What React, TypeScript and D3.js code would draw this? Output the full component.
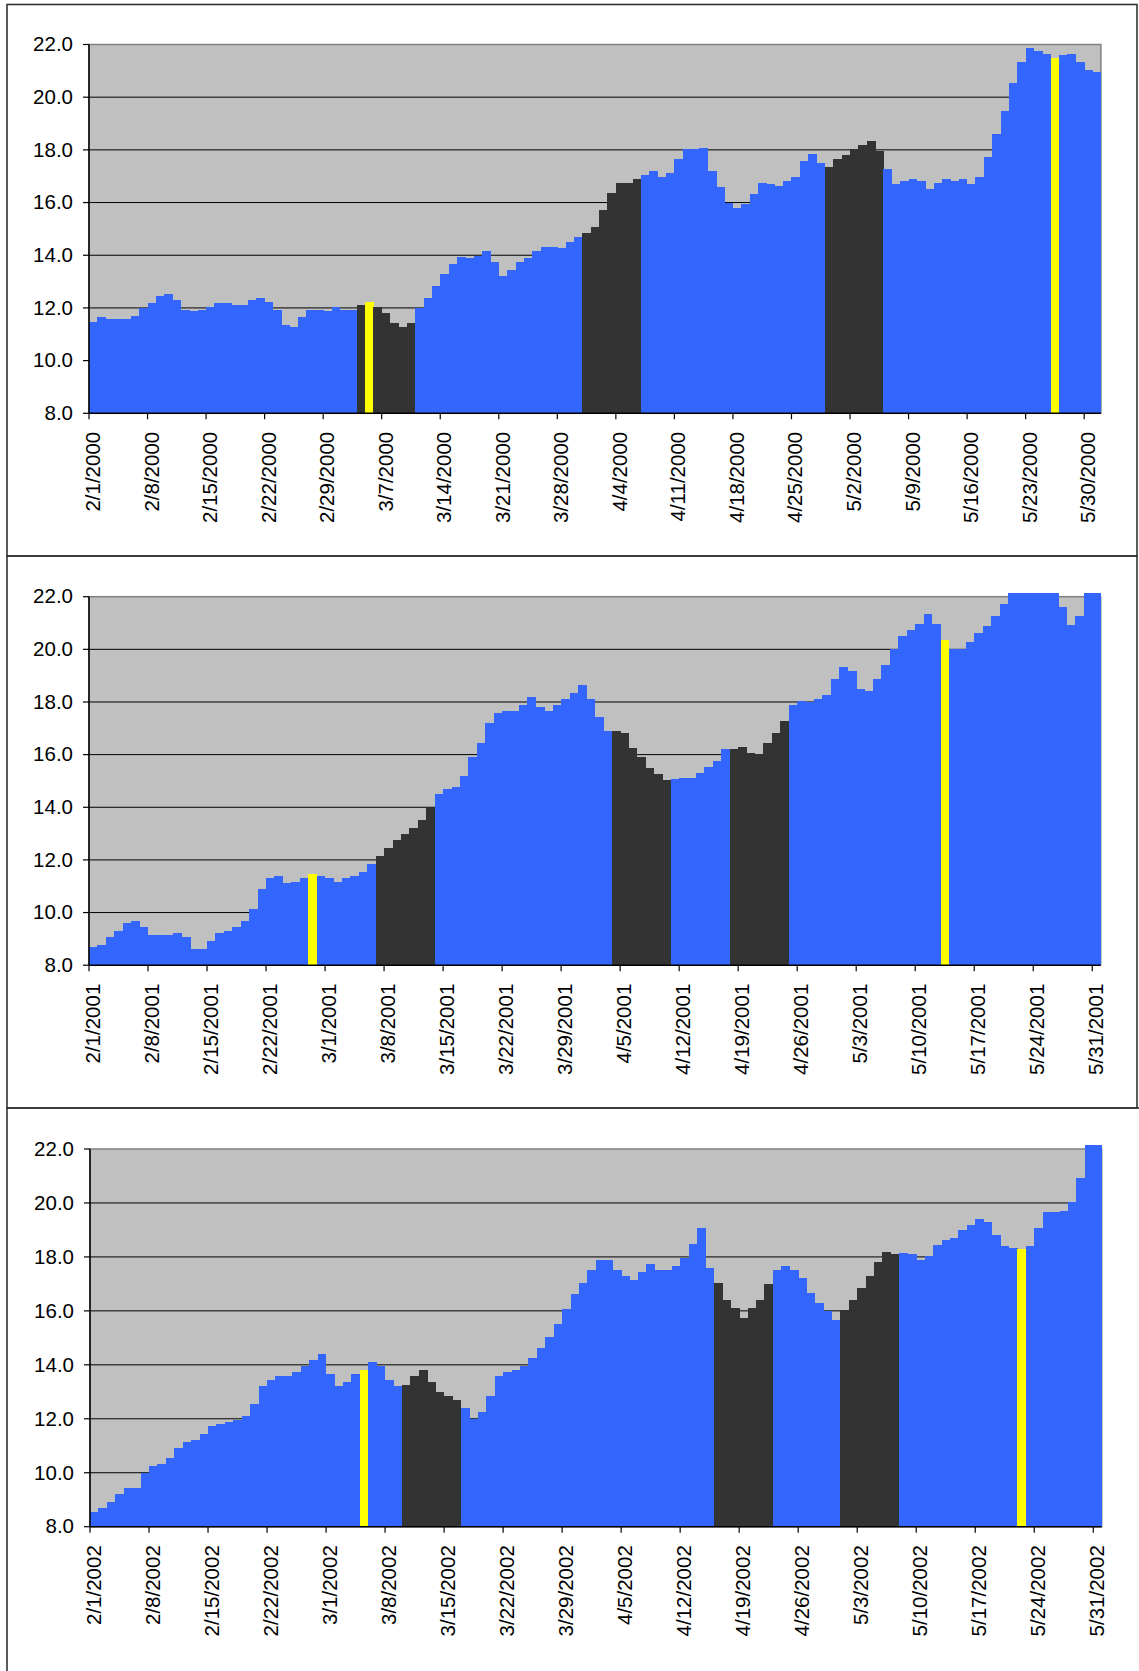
import React from "react";
import * as d3 from "d3";

// ---------- DATA ----------
const values2000 = [
  11.48, 11.64, 11.57, 11.57, 11.57, 11.70, 12.00, 12.17, 12.46, 12.54,
  12.31, 11.94, 11.87, 11.94, 12.02, 12.17, 12.17, 12.10, 12.10, 12.31,
  12.39, 12.24, 11.93, 11.34, 11.27, 11.64, 11.94, 11.94, 11.87, 12.02,
  11.94, 11.94, 12.10, 12.24, 12.02, 11.79, 11.41, 11.27, 11.41, 12.00,
  12.39, 12.83, 13.28, 13.66, 13.95, 13.89, 13.97, 14.18, 13.74, 13.22,
  13.44, 13.74, 13.89, 14.18, 14.33, 14.33, 14.26, 14.49, 14.70, 14.86,
  15.08, 15.70, 16.37, 16.75, 16.75, 16.90, 17.04, 17.19, 16.98, 17.13,
  17.65, 18.03, 18.03, 18.09, 17.19, 16.60, 15.99, 15.78, 15.93, 16.31,
  16.75, 16.69, 16.62, 16.82, 16.98, 17.57, 17.86, 17.51, 17.36, 17.65,
  17.80, 18.05, 18.18, 18.33, 17.95, 17.27, 16.69, 16.82, 16.89, 16.82,
  16.53, 16.75, 16.89, 16.82, 16.89, 16.69, 16.98, 17.73, 18.62, 19.47,
  20.52, 21.35, 21.86, 21.74, 21.65, 21.49, 21.59, 21.65, 21.35, 21.05,
  20.96,
];
const values2001 = [
  8.70, 8.76, 9.06, 9.29, 9.60, 9.67, 9.44, 9.14, 9.14, 9.14,
  9.22, 9.06, 8.61, 8.61, 8.91, 9.22, 9.29, 9.44, 9.67, 10.12,
  10.88, 11.32, 11.40, 11.11, 11.17, 11.32, 11.47, 11.40, 11.32, 11.17,
  11.32, 11.40, 11.55, 11.85, 12.16, 12.46, 12.77, 12.98, 13.21, 13.51,
  13.97, 14.49, 14.70, 14.78, 15.17, 15.92, 16.45, 17.20, 17.58, 17.66,
  17.66, 17.89, 18.18, 17.81, 17.66, 17.89, 18.11, 18.33, 18.63, 18.11,
  17.43, 16.91, 16.91, 16.83, 16.24, 15.92, 15.48, 15.25, 15.02, 15.06,
  15.10, 15.10, 15.31, 15.54, 15.77, 16.23, 16.23, 16.30, 16.07, 16.01,
  16.45, 16.83, 17.28, 17.89, 18.04, 17.99, 18.11, 18.25, 18.86, 19.32,
  19.19, 18.49, 18.43, 18.86, 19.39, 20.00, 20.52, 20.75, 20.98, 21.36,
  20.98, 20.35, 20.00, 20.00, 20.29, 20.61, 20.90, 21.28, 21.73, 22.15,
  22.15, 22.15, 22.15, 22.15, 22.15, 21.59, 20.92, 21.28, 22.15, 22.15,
];
const values2002 = [
  8.53, 8.68, 8.90, 9.20, 9.42, 9.42, 9.98, 10.25, 10.32, 10.54,
  10.90, 11.13, 11.20, 11.42, 11.73, 11.80, 11.88, 11.95, 12.10, 12.55,
  13.21, 13.44, 13.58, 13.58, 13.73, 13.95, 14.18, 14.39, 13.65, 13.21,
  13.35, 13.65, 13.79, 14.09, 13.94, 13.44, 13.21, 13.27, 13.57, 13.79,
  13.35, 12.98, 12.83, 12.68, 12.39, 11.98, 12.24, 12.83, 13.57, 13.73,
  13.81, 13.95, 14.24, 14.61, 15.04, 15.51, 16.08, 16.61, 17.05, 17.50,
  17.88, 17.88, 17.51, 17.29, 17.14, 17.44, 17.72, 17.51, 17.51, 17.66,
  17.96, 18.48, 19.06, 17.59, 17.05, 16.39, 16.09, 15.75, 16.09, 16.39,
  16.98, 17.51, 17.65, 17.51, 17.22, 16.68, 16.31, 15.98, 15.66, 16.02,
  16.39, 16.83, 17.28, 17.80, 18.17, 18.11, 18.15, 18.11, 17.88, 18.02,
  18.46, 18.62, 18.70, 18.99, 19.19, 19.41, 19.28, 18.83, 18.39, 18.33,
  18.31, 18.40, 19.06, 19.66, 19.66, 19.72, 20.03, 20.91, 22.15, 22.15,
];

const start2000 = "2/1/2000";
const start2001 = "2/1/2001";
const start2002 = "2/1/2002";

const dark2000 = [["3/4/2000", "3/10/2000"], ["3/31/2000", "4/6/2000"], ["4/29/2000", "5/5/2000"]];
const dark2001 = [["3/7/2001", "3/13/2001"], ["4/4/2001", "4/10/2001"], ["4/18/2001", "4/24/2001"]];
const dark2002 = [["3/10/2002", "3/16/2002"], ["4/16/2002", "4/22/2002"], ["5/1/2002", "5/7/2002"]];

const yellow2000 = ["3/5/2000", "5/26/2000"];
const yellow2001 = ["2/27/2001", "5/13/2001"];
const yellow2002 = ["3/5/2002", "5/22/2002"];

const ticks2000 = ["2/1/2000", "2/8/2000", "2/15/2000", "2/22/2000", "2/29/2000", "3/7/2000", "3/14/2000", "3/21/2000", "3/28/2000", "4/4/2000", "4/11/2000", "4/18/2000", "4/25/2000", "5/2/2000", "5/9/2000", "5/16/2000", "5/23/2000", "5/30/2000"];
const ticks2001 = ["2/1/2001", "2/8/2001", "2/15/2001", "2/22/2001", "3/1/2001", "3/8/2001", "3/15/2001", "3/22/2001", "3/29/2001", "4/5/2001", "4/12/2001", "4/19/2001", "4/26/2001", "5/3/2001", "5/10/2001", "5/17/2001", "5/24/2001", "5/31/2001"];
const ticks2002 = ["2/1/2002", "2/8/2002", "2/15/2002", "2/22/2002", "3/1/2002", "3/8/2002", "3/15/2002", "3/22/2002", "3/29/2002", "4/5/2002", "4/12/2002", "4/19/2002", "4/26/2002", "5/3/2002", "5/10/2002", "5/17/2002", "5/24/2002", "5/31/2002"];

const yTicks = [8, 10, 12, 14, 16, 18, 20, 22];

// ---------- STYLE / LAYOUT ----------
const FONT = "'Liberation Sans', Arial, Helvetica, sans-serif";
const FS = 20.5;
const BLUE = "#3366FF";
const DARK = "#333333";
const YELLOW = "#FFFF00";
const PLOT_BG = "#C0C0C0";

const parse = d3.timeParse("%m/%d/%Y");

interface PanelCfg {
  start: string;
  values: number[];
  dark: string[][];
  yellow: string[];
  ticks: string[];
  frame: { x: number; y: number; w: number; h: number };
  plot: { l: number; r: number; t: number; b: number };
  labelGap: number;
}

const panels: PanelCfg[] = [
  {
    start: start2000, values: values2000, dark: dark2000, yellow: yellow2000, ticks: ticks2000,
    frame: { x: 7, y: 4.5, w: 1130, h: 551.5 },
    plot: { l: 89, r: 1100.9, t: 44.5, b: 413.3 },
    labelGap: 18.5,
  },
  {
    start: start2001, values: values2001, dark: dark2001, yellow: yellow2001, ticks: ticks2001,
    frame: { x: 7, y: 556, w: 1130, h: 552 },
    plot: { l: 89, r: 1100.7, t: 596.7, b: 965.2 },
    labelGap: 18.5,
  },
  {
    start: start2002, values: values2002, dark: dark2002, yellow: yellow2002, ticks: ticks2002,
    frame: { x: 7, y: 1108, w: 1150, h: 600 },
    plot: { l: 90, r: 1101.7, t: 1149, b: 1526.7 },
    labelGap: 18.5,
  },
];

function Panel({ cfg }: { cfg: PanelCfg }) {
  const startDate = parse(cfg.start) as Date;
  const days = cfg.values.map((_, i) => d3.timeDay.offset(startDate, i));
  const endDate = d3.timeDay.offset(startDate, cfg.values.length);
  const x = d3.scaleTime().domain([startDate, endDate]).range([cfg.plot.l, cfg.plot.r]);
  const y = d3.scaleLinear().domain([8, 22]).range([cfg.plot.b, cfg.plot.t]);

  const darkRanges = cfg.dark.map(([a, b]) => [parse(a) as Date, parse(b) as Date]);
  const yellowSet = new Set(cfg.yellow.map((s) => (parse(s) as Date).getTime()));
  const colorFor = (d: Date) => {
    if (yellowSet.has(d.getTime())) return YELLOW;
    for (const [a, b] of darkRanges) if (d >= a && d <= b) return DARK;
    return BLUE;
  };

  const { l, r, t, b } = cfg.plot;
  return (
    <g>
      <rect x={l} y={t} width={r - l} height={b - t} fill={PLOT_BG} stroke="#808080" strokeWidth={1.5} />
      {yTicks.filter((v) => v > 8 && v < 22).map((v) => (
        <line key={v} x1={l} x2={r} y1={y(v)} y2={y(v)} stroke="#000" strokeWidth={1} />
      ))}
      {days.map((d, i) => {
        const x0 = x(d);
        const x1 = x(d3.timeDay.offset(d, 1));
        const v = cfg.values[i];
        return (
          <rect key={i} x={x0} y={y(v)} width={x1 - x0 + 0.4} height={b - y(v)}
            fill={colorFor(d)} shapeRendering="crispEdges" />
        );
      })}
      {/* axes */}
      <line x1={l} x2={l} y1={t} y2={b} stroke="#000" strokeWidth={1.5} />
      <line x1={l} x2={r} y1={b} y2={b} stroke="#000" strokeWidth={1.5} />
      {yTicks.map((v) => (
        <g key={v}>
          <line x1={l - 6} x2={l} y1={y(v)} y2={y(v)} stroke="#000" strokeWidth={1.2} />
          <text x={l - 16} y={y(v)} dy="0.33em" textAnchor="end" fontFamily={FONT} fontSize={FS} fill="#000">
            {d3.format(".1f")(v)}
          </text>
        </g>
      ))}
      {cfg.ticks.map((s) => {
        const tx = x(parse(s) as Date);
        return (
          <g key={s}>
            <line x1={tx} x2={tx} y1={b} y2={b + 6} stroke="#000" strokeWidth={1.2} />
            <text transform={`translate(${tx},${b + cfg.labelGap}) rotate(-90)`} dy={11}
              textAnchor="end" fontFamily={FONT} fontSize={FS} fill="#000">
              {s}
            </text>
          </g>
        );
      })}
      <rect x={cfg.frame.x} y={cfg.frame.y} width={cfg.frame.w} height={cfg.frame.h}
        fill="none" stroke="#333" strokeWidth={1.6} />
    </g>
  );
}

export default function App() {
  return (
    <div style={{ position: "absolute", left: 0, top: 0, background: "#fff" }}>
      <svg width={1139} height={1671} style={{ display: "block" }}>
        <rect x={0} y={0} width={1139} height={1671} fill="#fff" />
        {panels.map((p, i) => (
          <Panel key={i} cfg={p} />
        ))}
      </svg>
    </div>
  );
}
